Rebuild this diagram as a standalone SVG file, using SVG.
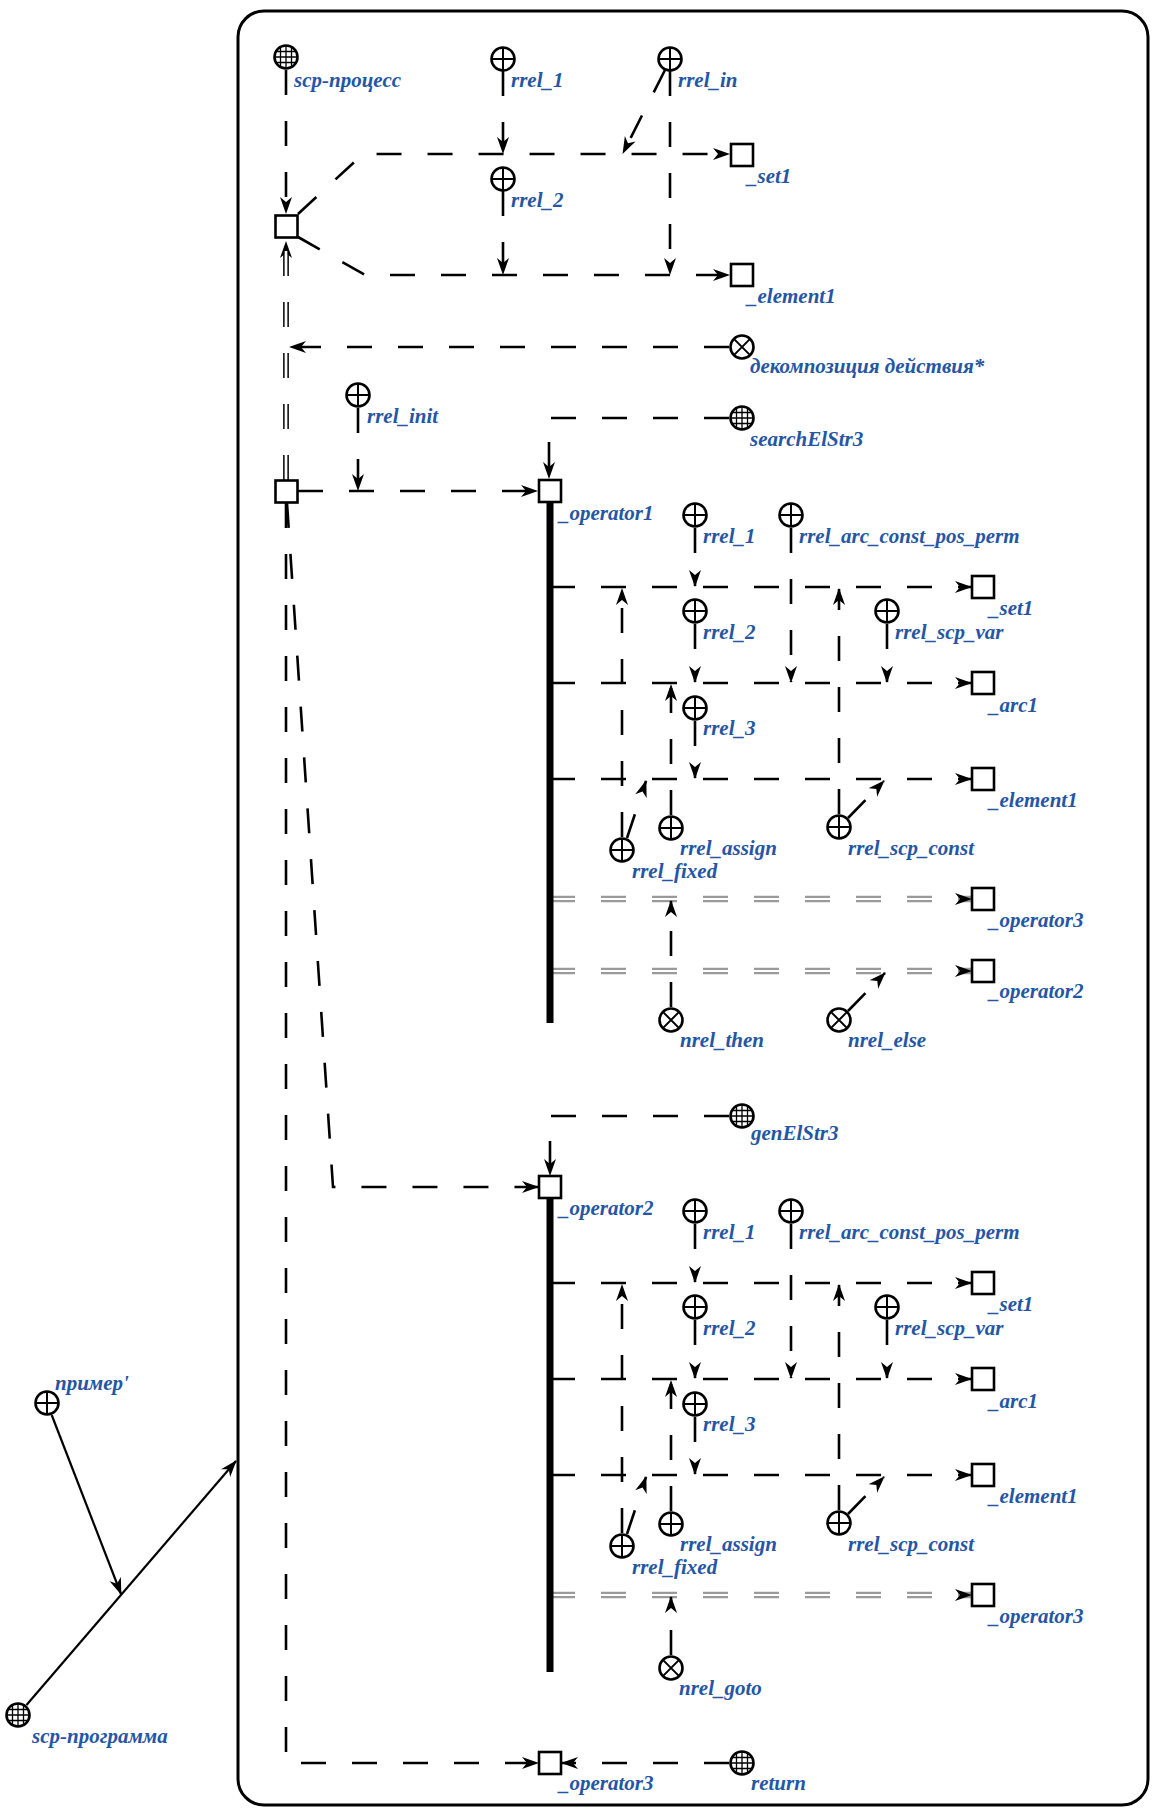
<svg xmlns="http://www.w3.org/2000/svg" xmlns:xlink="http://www.w3.org/1999/xlink" width="1155" height="1809" viewBox="0 0 1155 1809">
<style>
.lbl{font-family:"Liberation Serif","Times New Roman",serif;font-size:21px;font-weight:bold;font-style:italic;fill:#2456a4}
.n{fill:#fff;stroke:#000;stroke-width:2.6}
.x{fill:none;stroke:#000;stroke-width:2}
.gx{fill:none;stroke:#000;stroke-width:1.3}
.d{fill:none;stroke:#000;stroke-width:2.6;stroke-dasharray:25 26}
.s{fill:none;stroke:#000;stroke-width:2.2}
.g1{fill:none;stroke:#9a9a9a;stroke-width:6.5;stroke-dasharray:25 26}
.g2{fill:none;stroke:#fff;stroke-width:2;stroke-dasharray:25 26}
.b1{fill:none;stroke:#222;stroke-width:6;stroke-dasharray:25 26}
.b2{fill:none;stroke:#fff;stroke-width:2.6;stroke-dasharray:25 26}
.bus{fill:none;stroke:#000;stroke-width:7}
</style>
<defs>
<marker id="a" markerWidth="18" markerHeight="13" refX="16" refY="6" orient="auto" markerUnits="userSpaceOnUse"><path d="M0,0 L17,6 L0,12 L5,6z" fill="#000"/></marker>
<g id="cplus"><circle r="11.5" class="n"/><path d="M-11.5,0H11.5M0,-11.5V11.5" class="x"/></g>
<g id="ccross"><circle r="11.5" class="n"/><path d="M-8.1,-8.1L8.1,8.1M-8.1,8.1L8.1,-8.1" class="x"/></g>
<g id="cgrid"><circle r="11.5" class="n"/><path d="M-5.5,-10.1V10.1M0,-11.5V11.5M5.5,-10.1V10.1M-10.1,-5.5H10.1M-11.5,0H11.5M-10.1,5.5H10.1" class="gx"/></g>
<rect id="sq" x="-11" y="-11" width="22" height="22" class="n"/>
</defs>
<rect width="1155" height="1809" fill="#fff"/>
<g id="contour"><rect x="238" y="11" width="910" height="1794" rx="26" fill="none" stroke="#000" stroke-width="3"/></g>

<g id="connectors">
<path class="d" d="M286,70 V213" marker-end="url(#a)"/>
<path class="d" d="M298,214 L363,154 H729" marker-end="url(#a)"/>
<path class="d" d="M298,237 L365,275 H729" marker-end="url(#a)"/>
<path class="d" d="M503,71 V153" marker-end="url(#a)"/>
<path class="d" d="M503,191 V274" marker-end="url(#a)"/>
<path class="d" d="M665,70 L623,153" marker-end="url(#a)"/>
<path class="d" d="M670,71 V274" marker-end="url(#a)"/>
<path class="b1" d="M286,480 V242" marker-end="url(#a)"/>
<path class="b2" d="M286,480 V250"/>
<path class="d" d="M729,347 H290" marker-end="url(#a)"/>
<path class="d" d="M729,418 H549 V478" marker-end="url(#a)"/>
<path class="d" d="M298,491 H537" marker-end="url(#a)"/>
<path class="d" d="M358,408 V490" marker-end="url(#a)"/>
<path class="d" d="M287,503 L333,1187 H538" marker-end="url(#a)"/>
<path class="d" d="M286,503 V1763 H538" marker-end="url(#a)"/>
<path class="d" d="M729,1116 H550 V1175" marker-end="url(#a)"/>
<path class="d" d="M729,1763 H562" marker-end="url(#a)"/>
<path class="s" d="M26.5,1705 L236,1461" marker-end="url(#a)"/>
<path class="s" d="M51.7,1415 L121,1594" marker-end="url(#a)"/>

<path class="d" d="M550,587 H971" marker-end="url(#a)"/>
<path class="d" d="M550,683 H971" marker-end="url(#a)"/>
<path class="d" d="M550,779 H971" marker-end="url(#a)"/>
<path class="g1" d="M550,899 H971" marker-end="url(#a)"/>
<path class="g2" d="M550,899 H956"/>
<path class="g1" d="M550,971 H971" marker-end="url(#a)"/>
<path class="g2" d="M550,971 H956"/>
<path class="d" d="M695,528 V586" marker-end="url(#a)"/>
<path class="d" d="M791,528 V682" marker-end="url(#a)"/>
<path class="d" d="M695,624 V682" marker-end="url(#a)"/>
<path class="d" d="M887,624 V682" marker-end="url(#a)"/>
<path class="d" d="M695,721 V778" marker-end="url(#a)"/>
<path class="d" d="M671,815 V685" marker-end="url(#a)"/>
<path class="d" d="M622,837 V589" marker-end="url(#a)"/>
<path class="d" d="M627,838 L646,781" marker-end="url(#a)"/>
<path class="d" d="M839,814 V589" marker-end="url(#a)"/>
<path class="d" d="M848,818 L884,781" marker-end="url(#a)"/>
<path class="d" d="M671,1007 V901" marker-end="url(#a)"/>
<path class="d" d="M848,1011 L885,973" marker-end="url(#a)"/>

<path class="d" d="M550,1283 H971" marker-end="url(#a)"/>
<path class="d" d="M550,1379 H971" marker-end="url(#a)"/>
<path class="d" d="M550,1475 H971" marker-end="url(#a)"/>
<path class="g1" d="M550,1595 H971" marker-end="url(#a)"/>
<path class="g2" d="M550,1595 H956"/>
<path class="d" d="M695,1224 V1282" marker-end="url(#a)"/>
<path class="d" d="M791,1224 V1378" marker-end="url(#a)"/>
<path class="d" d="M695,1320 V1378" marker-end="url(#a)"/>
<path class="d" d="M887,1320 V1378" marker-end="url(#a)"/>
<path class="d" d="M695,1417 V1474" marker-end="url(#a)"/>
<path class="d" d="M671,1511 V1381" marker-end="url(#a)"/>
<path class="d" d="M622,1533 V1285" marker-end="url(#a)"/>
<path class="d" d="M627,1534 L646,1477" marker-end="url(#a)"/>
<path class="d" d="M839,1510 V1285" marker-end="url(#a)"/>
<path class="d" d="M848,1514 L884,1477" marker-end="url(#a)"/>
<path class="d" d="M671,1655 V1597" marker-end="url(#a)"/>
</g>

<g id="n_scp_process"><use xlink:href="#cgrid" x="286" y="57"/><text class="lbl" x="294" y="87">scp-процесс</text></g>
<g id="n_rrel1_top"><use xlink:href="#cplus" x="503" y="59"/><text class="lbl" x="511" y="87">rrel_1</text></g>
<g id="n_rrel2_top"><use xlink:href="#cplus" x="503" y="179"/><text class="lbl" x="511" y="207">rrel_2</text></g>
<g id="n_rrel_in"><use xlink:href="#cplus" x="670" y="59"/><text class="lbl" x="678" y="87">rrel_in</text></g>
<g id="n_process"><use xlink:href="#sq" x="286.5" y="226.5"/></g>
<g id="n_set1_top"><use xlink:href="#sq" x="742" y="155"/><text class="lbl" x="747" y="183">_set1</text></g>
<g id="n_element1_top"><use xlink:href="#sq" x="742" y="275"/><text class="lbl" x="747" y="303">_element1</text></g>
<g id="n_decomp"><use xlink:href="#ccross" x="742" y="347"/><text class="lbl" x="750" y="373">декомпозиция действия*</text></g>
<g id="n_search"><use xlink:href="#cgrid" x="742" y="418"/><text class="lbl" x="750" y="446">searchElStr3</text></g>
<g id="n_program"><use xlink:href="#sq" x="286.5" y="491.5"/></g>
<g id="n_rrel_init"><use xlink:href="#cplus" x="358" y="395"/><text class="lbl" x="367" y="423">rrel_init</text></g>

<g id="n_operator1"><path class="bus" d="M550,502 V1023"/><use xlink:href="#sq" x="550" y="491"/><text class="lbl" x="559" y="520">_operator1</text></g>
<g id="n1_rrel1"><use xlink:href="#cplus" x="695" y="515"/><text class="lbl" x="703" y="543">rrel_1</text></g>
<g id="n1_acpp"><use xlink:href="#cplus" x="791" y="515"/><text class="lbl" x="799" y="543">rrel_arc_const_pos_perm</text></g>
<g id="n1_rrel2"><use xlink:href="#cplus" x="695" y="611"/><text class="lbl" x="703" y="639">rrel_2</text></g>
<g id="n1_scpvar"><use xlink:href="#cplus" x="887" y="611"/><text class="lbl" x="895" y="639">rrel_scp_var</text></g>
<g id="n1_rrel3"><use xlink:href="#cplus" x="695" y="708"/><text class="lbl" x="703" y="735">rrel_3</text></g>
<g id="n1_assign"><use xlink:href="#cplus" x="671" y="828"/><text class="lbl" x="680" y="855">rrel_assign</text></g>
<g id="n1_fixed"><use xlink:href="#cplus" x="622" y="850"/><text class="lbl" x="632" y="878">rrel_fixed</text></g>
<g id="n1_scpconst"><use xlink:href="#cplus" x="839" y="827"/><text class="lbl" x="848" y="855">rrel_scp_const</text></g>
<g id="n1_then"><use xlink:href="#ccross" x="671" y="1020"/><text class="lbl" x="680" y="1047">nrel_then</text></g>
<g id="n1_else"><use xlink:href="#ccross" x="839" y="1020"/><text class="lbl" x="848" y="1047">nrel_else</text></g>
<g id="n1_set1"><use xlink:href="#sq" x="983" y="587"/><text class="lbl" x="989" y="615">_set1</text></g>
<g id="n1_arc1"><use xlink:href="#sq" x="983" y="683"/><text class="lbl" x="989" y="712">_arc1</text></g>
<g id="n1_element1"><use xlink:href="#sq" x="983" y="779"/><text class="lbl" x="989" y="807">_element1</text></g>
<g id="n1_operator3"><use xlink:href="#sq" x="983" y="899"/><text class="lbl" x="989" y="927">_operator3</text></g>
<g id="n1_operator2"><use xlink:href="#sq" x="983" y="971"/><text class="lbl" x="989" y="998">_operator2</text></g>

<g id="n_gen"><use xlink:href="#cgrid" x="742" y="1116"/><text class="lbl" x="751" y="1140">genElStr3</text></g>
<g id="n_operator2"><path class="bus" d="M550,1198 V1672"/><use xlink:href="#sq" x="550" y="1187"/><text class="lbl" x="559" y="1215">_operator2</text></g>
<g id="n2_rrel1"><use xlink:href="#cplus" x="695" y="1211"/><text class="lbl" x="703" y="1239">rrel_1</text></g>
<g id="n2_acpp"><use xlink:href="#cplus" x="791" y="1211"/><text class="lbl" x="799" y="1239">rrel_arc_const_pos_perm</text></g>
<g id="n2_rrel2"><use xlink:href="#cplus" x="695" y="1307"/><text class="lbl" x="703" y="1335">rrel_2</text></g>
<g id="n2_scpvar"><use xlink:href="#cplus" x="887" y="1307"/><text class="lbl" x="895" y="1335">rrel_scp_var</text></g>
<g id="n2_rrel3"><use xlink:href="#cplus" x="695" y="1404"/><text class="lbl" x="703" y="1431">rrel_3</text></g>
<g id="n2_assign"><use xlink:href="#cplus" x="671" y="1524"/><text class="lbl" x="680" y="1551">rrel_assign</text></g>
<g id="n2_fixed"><use xlink:href="#cplus" x="622" y="1546"/><text class="lbl" x="632" y="1574">rrel_fixed</text></g>
<g id="n2_scpconst"><use xlink:href="#cplus" x="839" y="1523"/><text class="lbl" x="848" y="1551">rrel_scp_const</text></g>
<g id="n2_goto"><use xlink:href="#ccross" x="671" y="1668"/><text class="lbl" x="679" y="1695">nrel_goto</text></g>
<g id="n2_set1"><use xlink:href="#sq" x="983" y="1283"/><text class="lbl" x="989" y="1311">_set1</text></g>
<g id="n2_arc1"><use xlink:href="#sq" x="983" y="1379"/><text class="lbl" x="989" y="1408">_arc1</text></g>
<g id="n2_element1"><use xlink:href="#sq" x="983" y="1475"/><text class="lbl" x="989" y="1503">_element1</text></g>
<g id="n2_operator3"><use xlink:href="#sq" x="983" y="1595"/><text class="lbl" x="989" y="1623">_operator3</text></g>

<g id="n_operator3"><use xlink:href="#sq" x="550" y="1763"/><text class="lbl" x="559" y="1790">_operator3</text></g>
<g id="n_return"><use xlink:href="#cgrid" x="742" y="1763"/><text class="lbl" x="751" y="1790">return</text></g>
<g id="n_primer"><use xlink:href="#cplus" x="47" y="1403"/><text class="lbl" x="55" y="1390">пример'</text></g>
<g id="n_scp_program"><use xlink:href="#cgrid" x="18" y="1715"/><text class="lbl" x="32" y="1743">scp-программа</text></g>
</svg>
